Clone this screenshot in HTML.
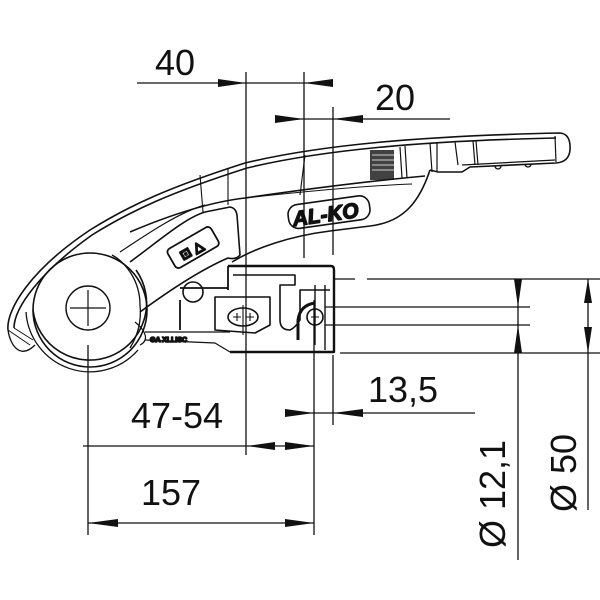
<!DOCTYPE html>
<html><head><meta charset="utf-8"><style>
html,body{margin:0;padding:0;background:#fff}
svg{display:block}
text{font-family:"Liberation Sans",Arial,sans-serif;fill:#111}
</style></head><body>
<svg width="600" height="600" viewBox="0 0 600 600" xmlns="http://www.w3.org/2000/svg">
<g fill="none" stroke="#111" stroke-width="1.6" stroke-linejoin="round">
<path d="M8 330 C6 310 30 270 90 230 C130 205 170 187 245 163 C320 145 420 136 560 133 Q571 134 570 150 Q569 162 556 163 L470 167 L462 172 L438 172 L430 170"/>
<path d="M14 328 C14 308 40 272 92 235 C132 210 172 192 247 168 C322 150 420 141 556 138"/>
<path d="M430 170 C420 200 405 222 370 226 L330 231 C290 236 255 248 232 262"/>
<path d="M130 232 C170 215 210 202 245 198 C300 190 360 182 425 176"/>
<path d="M245 198 C300 192 360 186 412 184" stroke-width="1"/>
<path d="M200 175 L203 212 M228 168 L228 205 M305 155 L300 195" stroke-width="1.1"/>
<path d="M430 143 L432 172 M437 143 L437 172 M455 142 L458 165 M473 141 L475 165 M476 141 L478 165 M555 136 L556 162" stroke-width="1.2"/>
<path d="M462 165 L555 160" stroke-width="1.2"/>
<path d="M495 166 a3 3 0 0 0 6 0 M525 164 a3 3 0 0 0 6 0" stroke-width="1.3"/>
<rect x="370" y="150" width="24" height="30" fill="#111" opacity="0.8" stroke="none"/>
<path d="M372 155 H394 M372 160 H394 M372 165 H394 M372 170 H394" stroke="#fff" stroke-width="0.8"/>
<path d="M400 147 L402 178 M405 146 L407 178" stroke-width="1.2"/>
<path d="M130 262 C160 240 185 218 205 212 L230 207 Q236 208 237 215 L240 255 Q236 260 228 258 C200 270 170 290 140 312"/>
<path d="M120 252 C150 232 180 212 205 205" stroke-width="1.2"/>
<rect x="168" y="236" width="50" height="22" rx="4" transform="rotate(-30 194 247)" stroke-width="1.8"/>
<text x="178" y="253" font-size="13" transform="rotate(-30 194 247)" style="font-weight:bold">⊡ △</text>
<g transform="rotate(-8 330 212)">
<rect x="288" y="200" width="82" height="24" rx="10" stroke-width="1.6"/>
<text x="292" y="221" font-size="21" font-weight="bold" font-style="italic" fill="#fff" stroke="#111" stroke-width="1.4">AL-KO</text>
</g>
<path d="M33 310 A57 57 0 1 0 136 270" stroke-width="1.6"/>
<circle cx="90" cy="310" r="57"/>
<path d="M26 312 A64 64 0 0 0 138 350" stroke-width="1.3"/>
<path d="M8 330 C10 345 20 360 35 345" stroke-width="1.3"/>
<path d="M8 330 L30 345 M14 328 L33 340" stroke-width="1"/>
<circle cx="88" cy="308" r="22" stroke-width="1.4"/>
<path d="M70 308 H106 M88 290 V326" stroke-width="1.2"/>
<path d="M112 255 C125 262 140 280 140 305 C142 325 135 340 130 348" stroke-width="1.3"/>
<path d="M135 322 C145 330 150 340 140 345" stroke-width="1.2"/>
<path d="M228 266 H331 Q334 266 334 270 V352 H230" stroke-width="2.4"/>
<path d="M228 266 V290 M180 300 V330 M180 288 H228" stroke-width="1.8"/>
<path d="M233 275 H295 V285 H280 V320 Q280 330 290 330 Q295 328 300 320 V290 H330" stroke-width="1.6"/>
<path d="M315 285 V345 M325 285 V350" stroke-width="1.4"/>
<path d="M215 297 H270 V325 L255 333 L215 330 Z" stroke-width="1.6"/>
<ellipse cx="243" cy="317" rx="15" ry="9"/>
<path d="M233 317 h8 M237 313 v8 M246 317 h8 M250 313 v8 M243 305 v30" stroke-width="1.1"/>
<path d="M298 340 V320 Q300 305 315 303" stroke-width="3"/>
<circle cx="315" cy="317" r="8"/>
<path d="M311 317 h8 M315 313 v8" stroke-width="1.1"/>
<circle cx="193" cy="292" r="10"/>
<path d="M145 340 L215 343 L230 352 M145 332 H230" stroke-width="1.2"/>
<text x="150" y="342" font-size="7" font-weight="bold">GA XLLISC</text>
</g>
<g stroke="#111" stroke-width="1.3" fill="none">
<path d="M137 83 H333 M246 72 V455 M304 72 V258 M275 119 H450 M333 107 V255"/>
<path d="M88 345 V535 M314 300 V535 M333 355 V425 M285 413 H475 M83 446 H314 M88 523 H314"/>
<path d="M334 279 H355 M367 279 H600 M325 307 H530 M325 325 H530 M340 353 H600 M518 279 V560 M588 279 V510"/>
</g>
<g fill="#111" stroke="none">
<path d="M246 83 L218 79 L218 87Z M304 83 L333 79 L333 87Z"/>
<path d="M304 119 L275 115 L275 123Z M333 119 L363 115 L363 123Z"/>
<path d="M314 413 L285 409 L285 417Z M333 413 L363 409 L363 417Z"/>
<path d="M247 446 L275 442 L275 450Z M314 446 L285 442 L285 450Z"/>
<path d="M88 523 L118 519 L118 527Z M314 523 L285 519 L285 527Z"/>
<path d="M518 307 L514 279 L522 279Z M518 325 L514 353 L522 353Z"/>
<path d="M588 279 L584 303 L592 303Z M588 353 L584 327 L592 327Z"/>
</g>
<g font-size="36">
<text x="155" y="75">40</text>
<text x="375" y="110">20</text>
<text x="368" y="402">13,5</text>
<text x="131" y="428">47-54</text>
<text x="141" y="505">157</text>
<text transform="translate(505 548) rotate(-90)">Ø 12,1</text>
<text transform="translate(576 512) rotate(-90)">Ø 50</text>
</g>
</svg>
</body></html>
